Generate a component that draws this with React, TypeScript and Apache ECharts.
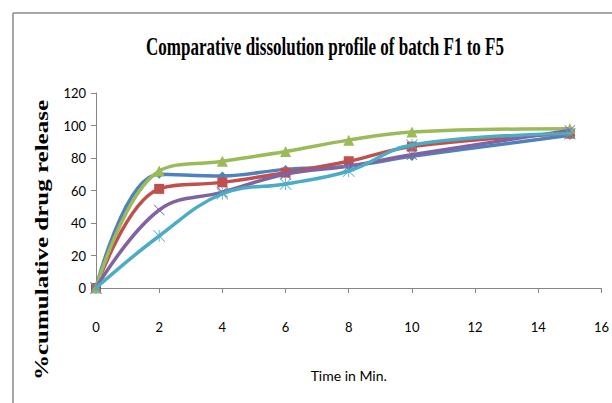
import React, { useEffect, useRef } from "react";
import * as echarts from "echarts";

const times = [0, 2, 4, 6, 8, 10, 15];
const seriesNames = ["F1", "F2", "F3", "F4", "F5"];
const f1 = [0, 70, 69, 73, 75, 81, 94];
const f2 = [0, 61, 65, 71, 78, 87, 95];
const f3 = [0, 72, 78, 84, 91, 96, 98];
const f4 = [0, 48, 59, 70, 75, 82, 97];
const f5 = [0, 32, 58, 64, 72, 88, 95];
const xTicks = [0, 2, 4, 6, 8, 10, 12, 14, 16];
const yTicks = [0, 20, 40, 60, 80, 100, 120];

const colors = ["#4F81BD", "#C0504D", "#9BBB59", "#8064A2", "#4BACC6"];
const xPath = "path://M0,1 L1,0 L10,9 L19,0 L20,1 L11,10 L20,19 L19,20 L10,11 L1,20 L0,19 L9,10 Z";
const starPath =
  "path://M0,1 L1,0 L10,9 L19,0 L20,1 L11,10 L20,19 L19,20 L10,11 L1,20 L0,19 L9,10 Z M9.3,0 L10.7,0 L10.7,20 L9.3,20 Z";
const symbols = ["diamond", "rect", "triangle", xPath, starPath];
const symbolSizes = [9, 10, 11, 11, 12];

export default function App() {
  const ref = useRef<HTMLDivElement>(null);
  useEffect(() => {
    if (!ref.current) return;
    const chart = echarts.init(ref.current, undefined, { renderer: "svg" });
    const all = [f1, f2, f3, f4, f5];
    chart.setOption({
      animation: false,
      backgroundColor: "#ffffff",
      grid: { left: 96, right: 9, top: 93, bottom: 115 },
      xAxis: {
        type: "value",
        min: xTicks[0],
        max: xTicks[xTicks.length - 1],
        interval: 2,
        name: "Time in Min.",
        nameLocation: "middle",
        nameGap: 80,
        nameTextStyle: { fontFamily: "Lato", fontSize: 14, color: "#000" },
        axisLine: { lineStyle: { color: "#868686", width: 1 } },
        axisTick: { show: true, length: 5, lineStyle: { color: "#868686" } },
        axisLabel: { margin: 32, fontFamily: "Lato", fontSize: 13, color: "#000" },
        splitLine: { show: false },
      },
      yAxis: {
        type: "value",
        min: yTicks[0],
        max: yTicks[yTicks.length - 1],
        interval: 20,
        axisLine: { show: true, lineStyle: { color: "#868686", width: 1 } },
        axisTick: { show: true, length: 5, lineStyle: { color: "#868686" } },
        axisLabel: { margin: 10, fontFamily: "Lato", fontSize: 13, color: "#000" },
        splitLine: { show: false },
      },
      graphic: [
        { type: "line", shape: { x1: 13, y1: 13, x2: 612, y2: 13 }, style: { stroke: "#8a8a8a", lineWidth: 1.5 } },
        { type: "line", shape: { x1: 13, y1: 13, x2: 13, y2: 403 }, style: { stroke: "#8a8a8a", lineWidth: 1.5 } },
        {
          type: "text",
          x: 325,
          y: 47,
          scaleX: 0.68,
          style: {
            text: "Comparative dissolution profile of batch F1 to F5",
            fontFamily: "Liberation Serif",
            fontWeight: "bold",
            fontSize: 25,
            fill: "#000",
            align: "center",
            verticalAlign: "middle",
          },
        },
        {
          type: "text",
          x: 42,
          y: 240,
          rotation: Math.PI / 2,
          scaleX: 1.39,
          style: {
            text: "%cumulative drug release",
            fontFamily: "Liberation Serif",
            fontWeight: "bold",
            fontSize: 18,
            fill: "#000",
            align: "center",
            verticalAlign: "middle",
          },
        },
      ],
      series: all.map((d, i) => ({
        name: seriesNames[i],
        type: "line",
        smooth: 0.4,
        data: times.map((t, j) => [t, d[j]]),
        symbol: symbols[i],
        symbolSize: symbolSizes[i],
        lineStyle: { color: colors[i], width: 3.5 },
        itemStyle: { color: colors[i] },
        z: 2 + i,
      })),
    });
    return () => chart.dispose();
  }, []);
  return (
    <div
      ref={ref}
      style={{ position: "absolute", left: 0, top: 0, width: 612, height: 403 }}
    />
  );
}
